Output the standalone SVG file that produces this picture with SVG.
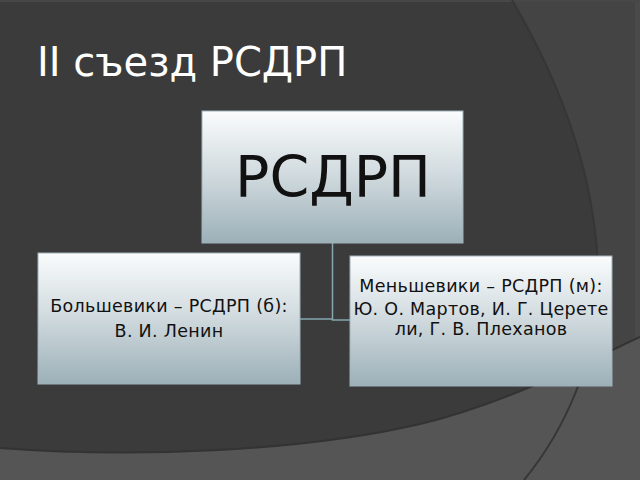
<svg xmlns="http://www.w3.org/2000/svg" width="640" height="480" viewBox="0 0 640 480">
  <defs>
    <linearGradient id="boxGrad" x1="0" y1="0" x2="0" y2="1">
      <stop offset="0" stop-color="#fafcfd"/>
      <stop offset="0.5" stop-color="#cfd9dd"/>
      <stop offset="1" stop-color="#9cb0b8"/>
    </linearGradient>
    <style>
      .box { fill: url(#boxGrad); stroke: #9fb2ba; stroke-width: 1; }
      .lbl { font-family: "DejaVu Sans", "Noto Sans", sans-serif; fill: #111; text-anchor: middle; }
      .sm { font-size: 17.5px; letter-spacing: 0.3px; }
      .conn { fill: none; stroke: #86a7b0; stroke-width: 1.5; }
    </style>
  </defs>

  <!-- background -->
  <rect x="0" y="0" width="640" height="480" fill="#3b3b3b"/>
  <path d="M512,0 C565,90 600,190 598,290 C596,360 565,430 524,480 L640,480 L640,0 Z" fill="#444444"/>
  <rect x="635" y="0" width="5" height="480" fill="#4a4a4a"/>
  <rect x="0" y="0" width="640" height="2" fill="#474747"/>
  <path d="M0,448 C130,458 300,452 420,424 C500,405 580,365 640,337 L640,480 L0,480 Z" fill="#555555"/>
  <path d="M0,448 C130,458 300,452 420,424 C500,405 580,365 640,337" fill="none" stroke="#333333" stroke-width="2"/>
  <path d="M512,0 C565,90 600,190 598,290 C596,360 565,430 524,480" fill="none" stroke="#363636" stroke-width="2"/>

  <text x="37" y="76" font-family="DejaVu Sans, Noto Sans, sans-serif" font-size="40" fill="#ffffff">II съезд РСДРП</text>

  <g id="connectors">
    <path class="conn" d="M332.5,243 L332.5,320 L350,320"/>
    <path class="conn" d="M300,319 L332.5,319"/>
  </g>

  <g id="node-rsdrp">
    <rect class="box" x="202" y="111" width="261" height="132"/>
    <text class="lbl" x="333" y="197" font-size="57">РСДРП</text>
  </g>

  <g id="node-bolsheviki">
    <rect class="box" x="38" y="253" width="262" height="131"/>
    <text class="lbl sm" x="169" y="312">Большевики – РСДРП (б):</text>
    <text class="lbl sm" x="169" y="337">В. И. Ленин</text>
  </g>

  <g id="node-mensheviki">
    <rect class="box" x="350" y="256" width="262" height="130"/>
    <text class="lbl sm" x="481" y="292">Меньшевики – РСДРП (м):</text>
    <text class="lbl sm" x="481" y="315">Ю. О. Мартов, И. Г. Церете</text>
    <text class="lbl sm" x="481" y="335">ли, Г. В. Плеханов</text>
  </g>
</svg>
